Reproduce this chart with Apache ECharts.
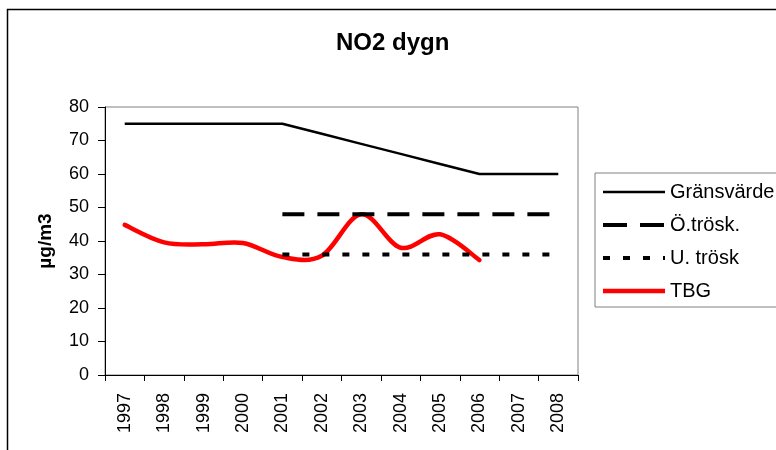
<!DOCTYPE html>
<html>
<head>
<meta charset="utf-8">
<script src="https://cdn.jsdelivr.net/npm/echarts@6/dist/echarts.min.js"></script>
<style>html,body{margin:0;padding:0;background:#fff}#c{width:776px;height:450px}</style>
</head>
<body>
<div id="c"></div>
<script>
var years = ['1997','1998','1999','2000','2001','2002','2003','2004','2005','2006','2007','2008'];
var gransvarde = [75,75,75,75,75,72,69,66,63,60,60,60];
var oTrosk = [null,null,null,null,48,48,48,48,48,48,48,48];
var uTrosk = [null,null,null,null,36,36,36,36,36,36,36,36];
var tbg = [44.8,39.6,39,39.4,35.2,35.6,48,38,42,34.3,null,null];
var yTicks = {min:0, max:80, interval:10};

var FONT = 'Liberation Sans, Arial, sans-serif';

// Smooth (Catmull-Rom style, like spreadsheet smoothing) path through points mapped by the axes
function renderTBG(params, api) {
  if (params.dataIndex !== 0) return null;
  var pts = [];
  for (var i = 0; i < tbg.length; i++) {
    if (tbg[i] != null) pts.push(api.coord([i, tbg[i]]));
  }
  if (pts.length < 2) return null;
  var d = 'M' + pts[0][0] + ',' + pts[0][1];
  for (var k = 0; k < pts.length - 1; k++) {
    var p0 = pts[k - 1] || pts[k], p1 = pts[k], p2 = pts[k + 1], p3 = pts[k + 2] || pts[k + 1];
    var c1x = p1[0] + (p2[0] - p0[0]) / 6, c1y = p1[1] + (p2[1] - p0[1]) / 6;
    var c2x = p2[0] - (p3[0] - p1[0]) / 6, c2y = p2[1] - (p3[1] - p1[1]) / 6;
    d += 'C' + c1x + ',' + c1y + ',' + c2x + ',' + c2y + ',' + p2[0] + ',' + p2[1];
  }
  return {type:'path', shape:{pathData:d}, style:{fill:'none', stroke:'#ff0000', lineWidth:4.5, lineJoin:'round', lineCap:'round'}};
}

var chart = echarts.init(document.getElementById('c'), null, {renderer:'canvas'});
chart.setOption({
  animation:false,
  backgroundColor:'#fff',
  title:{text:'NO2 dygn', left:336, top:31, padding:0,
    textStyle:{fontFamily:FONT, fontSize:24, fontWeight:'bold', color:'#000'}},
  graphic:[{type:'rect', shape:{x:7.5,y:9.5,width:900,height:900}, style:{fill:null, stroke:'#000', lineWidth:1.5}, silent:true}],
  legend:{orient:'vertical', left:595, top:173, padding:[9,6,6,6], itemGap:13,
    itemWidth:62, itemHeight:20, borderColor:'#808080', borderWidth:1,
    textStyle:{fontFamily:FONT, fontSize:20, color:'#000'},
    data:[
      {name:'Gränsvärde', itemStyle:{opacity:0}, lineStyle:{width:2.5, color:'#000'}},
      {name:'Ö.trösk.', itemStyle:{opacity:0}, lineStyle:{width:4, color:'#000', type:[24,13]}},
      {name:'U. trösk', itemStyle:{opacity:0}, lineStyle:{width:4, color:'#000', type:[7,13]}},
      {name:'TBG', icon:'path://M0,0H62V4.5H0Z'}
    ]},
  grid:{left:105, top:107, right:198, bottom:75, show:true, borderColor:'#808080', borderWidth:1, containLabel:false},
  xAxis:{type:'category', data:years, boundaryGap:true,
    axisLine:{lineStyle:{color:'#000', width:1}},
    axisTick:{show:true, alignWithLabel:false, length:6, lineStyle:{color:'#000'}},
    axisLabel:{rotate:90, fontFamily:FONT, fontSize:18, color:'#000', margin:18, interval:0},
    splitLine:{show:false}},
  yAxis:{type:'value', min:yTicks.min, max:yTicks.max, interval:yTicks.interval,
    name:'µg/m3', nameLocation:'middle', nameGap:50, nameRotate:90,
    nameTextStyle:{fontFamily:FONT, fontSize:19, fontWeight:'bold', color:'#000'},
    axisLine:{show:true, lineStyle:{color:'#000', width:1}},
    axisTick:{show:true, length:7, lineStyle:{color:'#000'}},
    axisLabel:{fontFamily:FONT, fontSize:18, color:'#000', margin:16},
    splitLine:{show:false}},
  series:[
    {name:'Gränsvärde', type:'line', data:gransvarde, symbol:'none', lineStyle:{color:'#000', width:2.5}, itemStyle:{color:'#000'}},
    {name:'Ö.trösk.', type:'line', data:oTrosk, symbol:'none', lineStyle:{color:'#000', width:4, type:[22,13], cap:'butt'}, itemStyle:{color:'#000'}},
    {name:'U. trösk', type:'line', data:uTrosk, symbol:'none', lineStyle:{color:'#000', width:4, type:[7,13], cap:'butt'}, itemStyle:{color:'#000'}},
    {name:'TBG', type:'custom', data:tbg.map(function(v, i){ return [i, v == null ? '-' : v]; }),
      encode:{x:0, y:1}, renderItem:renderTBG, itemStyle:{color:'#ff0000'}, z:3}
  ]
});
</script>
</body>
</html>
